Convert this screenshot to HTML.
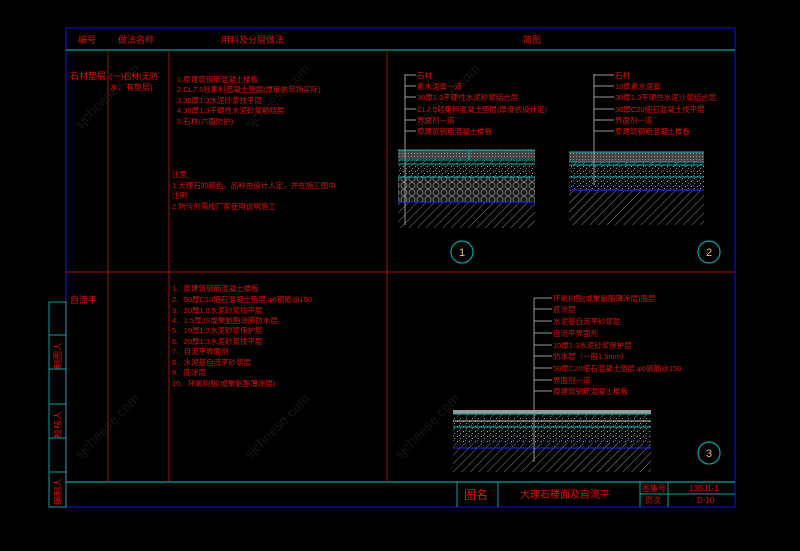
<!DOCTYPE html>
<html><head><meta charset="utf-8"><style>
html,body{margin:0;padding:0;background:#000;}
svg{display:block}
text{font-family:"Liberation Sans","Noto Sans CJK SC",sans-serif;fill:#e01010;}
</style></head><body>
<svg width="800" height="551" viewBox="0 0 800 551" xmlns="http://www.w3.org/2000/svg">
<defs>
<pattern id="hatch" width="6" height="6" patternUnits="userSpaceOnUse" patternTransform="rotate(45)">
<rect width="6" height="6" fill="#000"/><line x1="0" y1="0" x2="0" y2="6" stroke="#888" stroke-width="1"/></pattern>
<pattern id="dots" width="6" height="5" patternUnits="userSpaceOnUse">
<rect width="6" height="5" fill="#0a0a0a"/><rect x="1" y="1" width="1" height="1" fill="#aaa"/><rect x="4" y="3" width="1" height="1" fill="#888"/><rect x="3" y="0" width="1" height="1" fill="#666"/></pattern>
<pattern id="cells" width="8" height="7" patternUnits="userSpaceOnUse">
<rect width="8" height="7" fill="#1a1a1a"/><circle cx="4" cy="3.5" r="3" fill="none" stroke="#888" stroke-width="0.8"/></pattern>
<pattern id="stone" width="3" height="3" patternUnits="userSpaceOnUse">
<rect width="3" height="3" fill="#444"/><rect width="1" height="1" fill="#999"/></pattern>
</defs>
<g font-size="14" opacity="0.2">
<text x="80" y="130" transform="rotate(-45 80 130)" style="fill:#666">sjcheese.com</text>
<text x="250" y="130" transform="rotate(-45 250 130)" style="fill:#666">sjcheese.com</text>
<text x="420" y="130" transform="rotate(-45 420 130)" style="fill:#666">sjcheese.com</text>
<text x="80" y="460" transform="rotate(-45 80 460)" style="fill:#666">sjcheese.com</text>
<text x="250" y="460" transform="rotate(-45 250 460)" style="fill:#666">sjcheese.com</text>
<text x="400" y="460" transform="rotate(-45 400 460)" style="fill:#666">sjcheese.com</text>
</g>
<rect x="66" y="28" width="669" height="479" fill="none" stroke="#1010c0" stroke-width="1.2"/>
<line x1="66" y1="50" x2="735" y2="50" stroke="#10a0a0" stroke-width="1.2"/>
<line x1="66" y1="482" x2="735" y2="482" stroke="#10a0a0" stroke-width="1.2"/>
<line x1="66" y1="272" x2="735" y2="272" stroke="#a01010" stroke-width="1"/>
<g stroke="#a01010" stroke-width="1">
<line x1="108" y1="50" x2="108" y2="482"/><line x1="169" y1="50" x2="169" y2="482"/><line x1="387" y1="50" x2="387" y2="482"/>
</g>
<g stroke="#10a0a0" fill="none" stroke-width="1">
<rect x="49" y="302" width="17" height="205"/>
<line x1="49" y1="335" x2="66" y2="335"/><line x1="49" y1="369" x2="66" y2="369"/><line x1="49" y1="404" x2="66" y2="404"/>
<line x1="49" y1="438" x2="66" y2="438"/><line x1="49" y1="472" x2="66" y2="472"/>
</g>
<g font-size="9">
<text transform="translate(61,369) rotate(-90)">制图人</text>
<text transform="translate(61,438) rotate(-90)">校核人</text>
<text transform="translate(61,505) rotate(-90)">编制人</text>
</g>
<g font-size="9">
<text x="78" y="43">编号</text><text x="118" y="43">做法名称</text><text x="221" y="43">用料及分层做法</text><text x="523" y="43">简图</text>
<text x="70" y="79">石材垫层</text>
<text x="70" y="303">自流平</text>
</g>
<g font-size="8">
<text x="110" y="79">(一)石材(无防</text><text x="110" y="90">水、有垫层)</text>
</g>
<g font-size="7.5">
<text x="177" y="82">1.原建筑钢筋混凝土楼板</text>
<text x="177" y="92">2.CL7.5轻集料混凝土垫层(厚度依现场实际)</text>
<text x="177" y="103">3.30厚1:3水泥砂浆找平层</text>
<text x="177" y="113">4.30厚1:3干硬性水泥砂浆粘结层</text>
<text x="177" y="124">5.石材(六面防护)</text>
<text x="172" y="177">注意:</text>
<text x="172" y="188">1.大理石的颜色，品种由设计人定，并在施工图中</text>
<text x="172" y="198">注明</text>
<text x="172" y="209">2.防污剂需按厂家使用说明施工</text>
<text x="172" y="291">1、原建筑钢筋混凝土楼板</text>
<text x="172" y="302">2、50厚C10细石混凝土垫层,φ6钢筋@150</text>
<text x="172" y="313">3、20厚1:3水泥砂浆找平层</text>
<text x="172" y="323">4、1.5厚JS或聚氨酯涂膜防水层</text>
<text x="172" y="333">5、10厚1:3水泥砂浆保护层</text>
<text x="172" y="344">6、20厚1:3水泥砂浆找平层</text>
<text x="172" y="354">7、自流平界面剂</text>
<text x="172" y="365">8、水泥基自流平砂浆层</text>
<text x="172" y="375">9、底涂层</text>
<text x="172" y="386">10、环氧树脂(或聚氨酯薄涂层)</text>
</g>
<rect x="398" y="150" width="137" height="78" fill="url(#hatch)"/>
<rect x="398" y="150" width="137" height="9" fill="url(#stone)"/>
<rect x="398" y="164" width="137" height="13" fill="url(#dots)"/>
<rect x="398" y="177" width="137" height="25" fill="url(#cells)"/>
<g stroke="#10b0b0" stroke-width="1"><line x1="398" y1="150" x2="535" y2="150"/><line x1="398" y1="160" x2="535" y2="160"/><line x1="398" y1="164" x2="535" y2="164"/><line x1="398" y1="177" x2="535" y2="177"/><line x1="469" y1="150" x2="469" y2="160"/></g>
<line x1="398" y1="202" x2="535" y2="202" stroke="#2020e0" stroke-width="1.2"/>
<g stroke="#999" stroke-width="1"><line x1="405" y1="74" x2="405" y2="225"/>
<line x1="405" y1="75" x2="416" y2="75"/><line x1="405" y1="86" x2="416" y2="86"/><line x1="405" y1="97" x2="416" y2="97"/><line x1="405" y1="109" x2="416" y2="109"/><line x1="405" y1="120" x2="416" y2="120"/><line x1="405" y1="131" x2="416" y2="131"/></g>
<g font-size="7.5">
<text x="417" y="78">石材</text><text x="417" y="89">素水泥膏一道</text><text x="417" y="100">30厚1:3干硬性水泥砂浆结合层</text>
<text x="417" y="112">CL7.5轻集料混凝土垫层(厚度依设计定)</text><text x="417" y="123">界面剂一道</text><text x="417" y="134">原建筑钢筋混凝土楼板</text>
</g>
<rect x="569" y="152" width="135" height="73" fill="url(#hatch)"/>
<rect x="569" y="152" width="135" height="10" fill="url(#stone)"/>
<rect x="569" y="165" width="135" height="26" fill="url(#dots)"/>
<g stroke="#10b0b0" stroke-width="1"><line x1="569" y1="152" x2="704" y2="152"/><line x1="569" y1="162" x2="704" y2="162"/><line x1="569" y1="165" x2="704" y2="165"/><line x1="569" y1="177" x2="704" y2="177"/></g>
<line x1="569" y1="190" x2="704" y2="190" stroke="#2020e0" stroke-width="1.2"/>
<g stroke="#999" stroke-width="1"><line x1="594" y1="74" x2="594" y2="185"/>
<line x1="594" y1="75" x2="614" y2="75"/><line x1="594" y1="86" x2="614" y2="86"/><line x1="594" y1="97" x2="614" y2="97"/><line x1="594" y1="109" x2="614" y2="109"/><line x1="594" y1="120" x2="614" y2="120"/><line x1="594" y1="131" x2="614" y2="131"/></g>
<g font-size="7.5">
<text x="615" y="78">石材</text><text x="615" y="89">10厚素水泥膏</text><text x="615" y="100">30厚1:3干硬性水泥沙浆结合层</text>
<text x="615" y="112">30厚C20细石混凝土找平层</text><text x="615" y="123">界面剂一道</text><text x="615" y="134">原建筑钢筋混凝土楼板</text>
</g>
<rect x="453" y="410" width="198" height="62" fill="url(#hatch)"/>
<rect x="453" y="410" width="198" height="4" fill="#999"/>
<rect x="453" y="417" width="198" height="26" fill="url(#dots)"/>
<g stroke="#10b0b0" stroke-width="1"><line x1="453" y1="414" x2="651" y2="414"/><line x1="453" y1="427" x2="651" y2="427"/></g>
<line x1="453" y1="421" x2="651" y2="421" stroke="#bbb"/>
<line x1="453" y1="448" x2="651" y2="448" stroke="#2020e0" stroke-width="1.2"/>
<g stroke="#999" stroke-width="1"><line x1="534" y1="298" x2="534" y2="462"/>
<line x1="534" y1="298" x2="552" y2="298"/><line x1="534" y1="309" x2="552" y2="309"/><line x1="534" y1="321" x2="552" y2="321"/><line x1="534" y1="333" x2="552" y2="333"/><line x1="534" y1="345" x2="552" y2="345"/><line x1="534" y1="356" x2="552" y2="356"/><line x1="534" y1="368" x2="552" y2="368"/><line x1="534" y1="380" x2="552" y2="380"/><line x1="534" y1="391" x2="552" y2="391"/></g>
<g font-size="7.5">
<text x="553" y="301">环氧树脂(或聚氨酯薄涂层)面层</text><text x="553" y="312">底涂层</text><text x="553" y="324">水泥基自流平砂浆层</text>
<text x="553" y="336">自流平界面剂</text><text x="553" y="348">10厚1:3水泥砂浆保护层</text><text x="553" y="359">防水层（一般1.5mm）</text>
<text x="553" y="371">50厚C20细石混凝土垫层,φ6钢筋@150</text><text x="553" y="383">界面剂一道</text><text x="553" y="394">原建筑钢筋混凝土楼板</text>
</g>
<g stroke="#10a0a0" stroke-width="1.2" fill="none"><circle cx="462" cy="252" r="11"/><circle cx="709" cy="252" r="11"/><circle cx="709" cy="453" r="11"/></g>
<g font-size="11" text-anchor="middle"><text x="462" y="256" style="fill:#e0c080">1</text><text x="709" y="256" style="fill:#e0c080">2</text><text x="709" y="457" style="fill:#e0c080">3</text></g>
<g stroke="#10a0a0" stroke-width="1" fill="none">
<line x1="457" y1="482" x2="457" y2="507"/><line x1="498" y1="482" x2="498" y2="507"/><line x1="640" y1="482" x2="640" y2="507"/><line x1="668" y1="482" x2="668" y2="507"/><line x1="640" y1="494" x2="735" y2="494"/>
</g>
<text x="464" y="499" font-size="12">图名</text>
<text x="520" y="498" font-size="10">大理石楼面及自流平</text>
<text x="642" y="491" font-size="8">图集号</text><text x="645" y="503" font-size="8">页次</text>
<text x="689" y="491" font-size="8">13BJ1-1</text><text x="697" y="503" font-size="8">D-10</text>
</svg>
</body></html>
